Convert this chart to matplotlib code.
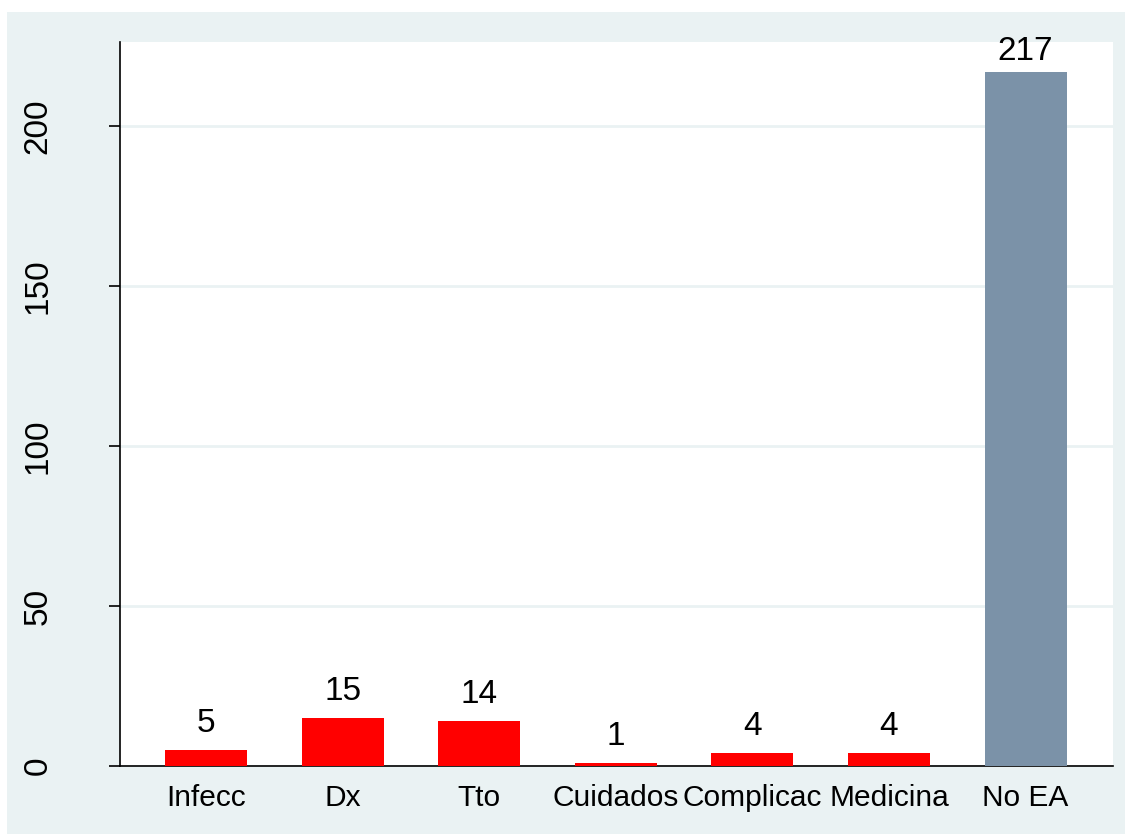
import matplotlib.pyplot as plt
from matplotlib.patches import Rectangle

categorias = ["Infecc", "Dx", "Tto", "Cuidados", "Complicac", "Medicina", "No EA"]
valores = [5, 15, 14, 1, 4, 4, 217]
colores = ["#FF0000"] * 6 + ["#7B92A8"]
ticks_y = [0, 50, 100, 150, 200]

plt.rcParams["font.family"] = ["Liberation Sans", "DejaVu Sans"]

fig = plt.figure(figsize=(11.25, 8.34), dpi=100, facecolor="white")
# fondo gris claro estilo Stata
fig.patches.append(Rectangle((7 / 1125, 0), 1 - 7 / 1125, 1 - 12 / 834,
                             transform=fig.transFigure, facecolor="#EAF2F3",
                             edgecolor="none", zorder=-1))

ax = fig.add_axes([120 / 1125, 68 / 834, 993 / 1125, 724 / 834])
ax.set_facecolor("white")

ymax = 226.25
x = range(len(categorias))
barras = ax.bar(x, valores, width=0.6, color=colores, zorder=3)

for xi, v in zip(x, valores):
    # etiqueta pegada a la barra si no cabe arriba
    desp = 8 if v < 0.9 * ymax else 3
    ax.annotate(str(v), (xi, v), xytext=(0, desp), textcoords="offset points",
                ha="center", va="bottom", fontsize=24)

ax.set_xlim(-0.63, 6.64)
ax.set_ylim(0, ymax)
ax.set_yticks(ticks_y)
ax.set_yticklabels([str(t) for t in ticks_y], rotation=90, va="center", fontsize=24)
ax.set_xticks(list(x))
ax.set_xticklabels(categorias, fontsize=21.5)

ax.tick_params(axis="x", length=0, pad=13)
ax.tick_params(axis="y", length=8, width=1.2, pad=40)

ax.yaxis.grid(True, color="#EAF2F3", linewidth=2, zorder=0)
ax.set_axisbelow(True)

for lado in ["top", "right"]:
    ax.spines[lado].set_visible(False)
ax.spines["left"].set_linewidth(1.2)
ax.spines["bottom"].set_linewidth(1.2)

fig.savefig("out.png", dpi=100)
